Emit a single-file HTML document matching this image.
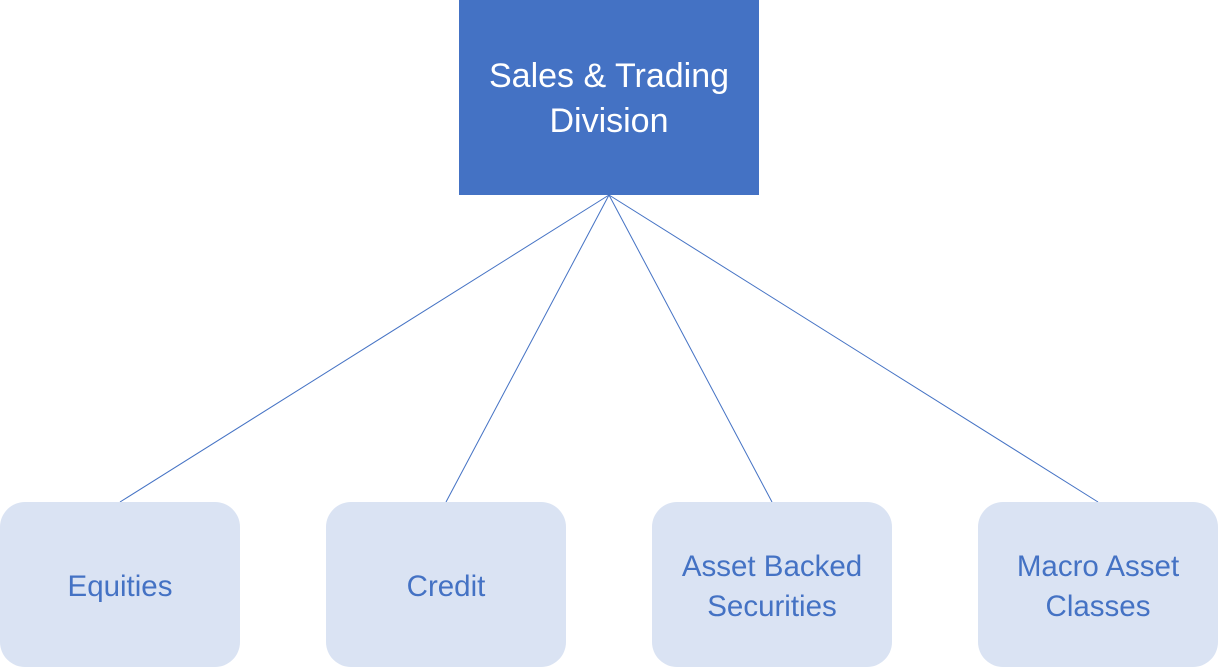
<!DOCTYPE html>
<html>
<head>
<meta charset="utf-8">
<style>
  html, body { margin: 0; padding: 0; background: #ffffff; }
  body { width: 1218px; height: 667px; overflow: hidden; }
  svg { display: block; }
  text { font-family: "Liberation Sans", "DejaVu Sans", sans-serif; }
</style>
</head>
<body>
<svg width="1218" height="667" viewBox="0 0 1218 667" xmlns="http://www.w3.org/2000/svg">
  <!-- connectors -->
  <g stroke="#4472C4" stroke-width="1" fill="none">
    <line x1="609" y1="195" x2="120" y2="502"/>
    <line x1="609" y1="195" x2="446" y2="502"/>
    <line x1="609" y1="195" x2="772" y2="502"/>
    <line x1="609" y1="195" x2="1098" y2="502"/>
  </g>

  <!-- top box -->
  <rect x="459" y="0" width="300" height="195" fill="#4472C4"/>
  <text x="609" y="87" text-anchor="middle" font-size="34" fill="#ffffff">Sales &amp; Trading</text>
  <text x="609" y="132" text-anchor="middle" font-size="34" fill="#ffffff">Division</text>

  <!-- bottom boxes -->
  <g fill="#DAE3F3">
    <rect x="0" y="502" width="240" height="165" rx="25" ry="25"/>
    <rect x="326" y="502" width="240" height="165" rx="25" ry="25"/>
    <rect x="652" y="502" width="240" height="165" rx="25" ry="25"/>
    <rect x="978" y="502" width="240" height="165" rx="25" ry="25"/>
  </g>

  <g fill="#4472C4" font-size="29.5" text-anchor="middle">
    <text x="120" y="596">Equities</text>
    <text x="446" y="596">Credit</text>
    <text x="772" y="576">Asset Backed</text>
    <text x="772" y="616">Securities</text>
    <text x="1098" y="576">Macro Asset</text>
    <text x="1098" y="616">Classes</text>
  </g>
</svg>
</body>
</html>
